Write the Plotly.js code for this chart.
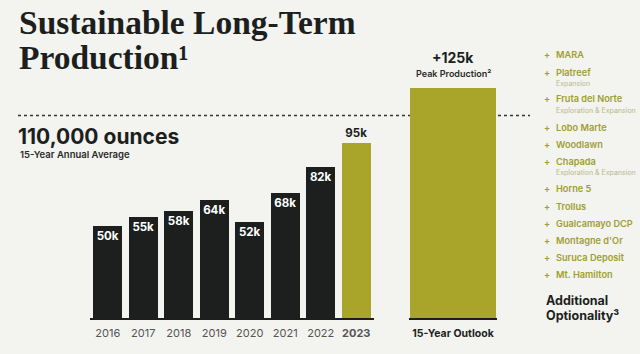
<!DOCTYPE html>
<html>
<head>
<meta charset="utf-8">
<script src="https://cdn.plot.ly/plotly-3.0.1.min.js"></script>
<style>
  html, body { margin: 0; padding: 0; background: #f3f3ef; }
  #chart { width: 640px; height: 354px; }
</style>
</head>
<body>
<div id="chart"></div>
<script>
// ---- data ----
const years = ['2016', '2017', '2018', '2019', '2020', '2021', '2022', '2023'];
const production = [50, 55, 58, 64, 52, 68, 82, 95];           // thousand ounces
const outlookCategory = ['15-Year Outlook'];
const outlookPeak = [125];                                       // thousand ounces
const annualAverage = 110;                                       // thousand ounces
const projects = ['MARA', 'Platreef', 'Fruta del Norte', 'Lobo Marte', 'Woodlawn', 'Chapada',
                  'Horne 5', 'Trollus', 'Gualcamayo DCP', "Montagne d'Or", 'Suruca Deposit', 'Mt. Hamilton'];
const projectNotes = ['', 'Expansion', 'Exploration & Expansion', '', '', 'Exploration & Expansion',
                      '', '', '', '', '', ''];

// ---- styling helpers ----
const W = 640, H = 354;
const px = x => x / W;
const py = y => 1 - y / H;
const DARK = '#1c1f1e';
const OLIVE = '#a9a52b';
const LISTGREEN = '#9ea032';
const SANS = 'Inter, "Open Sans", sans-serif';
const SERIF = '"Liberation Serif", "DejaVu Serif", serif';

const barColors = years.map((y, i) => i === years.length - 1 ? OLIVE : DARK);
const textPos = years.map((y, i) => i === years.length - 1 ? 'outside' : 'inside');
const fmtK = v => v + 'k';

const traces = [
  {
    type: 'bar', x: years, y: production, xaxis: 'x', yaxis: 'y',
    marker: { color: barColors }, width: 0.81,
    text: production.map(v => '<b>' + fmtK(v) + '</b>'),
    textposition: textPos, insidetextanchor: 'end', constraintext: 'none',
    insidetextfont: { family: SANS, size: 11.5, color: '#ffffff' },
    outsidetextfont: { family: SANS, size: 11.5, color: DARK },
    cliponaxis: false, hoverinfo: 'skip'
  },
  {
    type: 'bar', x: outlookCategory, y: outlookPeak, xaxis: 'x2', yaxis: 'y',
    marker: { color: OLIVE }, width: 0.98, hoverinfo: 'skip'
  }
];

const annotations = [
  { text: '<b>Sustainable Long-Term</b>', x: px(17), y: py(22), xanchor: 'left', yanchor: 'middle', height: 38,
    font: { family: SERIF, size: 33.5, color: DARK } },
  { text: '<b>Production¹</b>', x: px(17), y: py(57), xanchor: 'left', yanchor: 'middle', height: 30,
    font: { family: SERIF, size: 33.5, color: DARK } },
  { text: '<b>110,000 ounces</b>', x: px(16), y: py(136), xanchor: 'left', yanchor: 'middle',
    font: { family: SANS, size: 21, color: DARK } },
  { text: '15-Year Annual Average', x: px(18), y: py(154), xanchor: 'left', yanchor: 'middle',
    font: { family: SANS, size: 9.5, color: '#2a2a2a', weight: 600 } },
  { text: '<b>+' + fmtK(outlookPeak[0]) + '</b>', x: px(453), y: py(58), xanchor: 'center', yanchor: 'middle',
    font: { family: SANS, size: 14, color: DARK } },
  { text: 'Peak Production²', x: px(453), y: py(73), xanchor: 'center', yanchor: 'middle',
    font: { family: SANS, size: 9, color: '#2a2a2a', weight: 600 } },
  { text: '<b>Additional</b>', x: px(544), y: py(300), xanchor: 'left', yanchor: 'middle',
    font: { family: SANS, size: 12.5, color: DARK } },
  { text: '<b>Optionality³</b>', x: px(544), y: py(315), xanchor: 'left', yanchor: 'middle',
    font: { family: SANS, size: 12.5, color: DARK } }
];

// right-hand list of projects
const listY = [55, 72, 99, 127, 144, 161, 188, 206, 223, 240, 257, 274];
projects.forEach((p, i) => {
  annotations.push({ text: '<b>+</b>', x: px(547), y: py(listY[i]), xanchor: 'center', yanchor: 'middle',
    font: { family: SANS, size: 9, color: LISTGREEN } });
  annotations.push({ text: p, x: px(554), y: py(listY[i]), xanchor: 'left', yanchor: 'middle',
    font: { family: SANS, size: 9.2, color: LISTGREEN, weight: 600 } });
  if (projectNotes[i]) {
    annotations.push({ text: projectNotes[i], x: px(554), y: py(listY[i] + 11), xanchor: 'left', yanchor: 'middle',
      font: { family: SANS, size: 7, color: '#b9ba8c' } });
  }
});
annotations.forEach(a => { a.xref = 'paper'; a.yref = 'paper'; a.showarrow = false; });

const layout = {
  width: W, height: H,
  margin: { l: 0, r: 0, t: 0, b: 0 },
  paper_bgcolor: '#f3f3ef', plot_bgcolor: 'rgba(0,0,0,0)',
  showlegend: false, bargap: 0,
  xaxis: {
    domain: [px(90), px(374)], type: 'category', range: [-0.5, years.length - 0.5],
    tickvals: years, ticktext: years.map((y, i) => i === years.length - 1 ? '<b>' + y + '</b>' : y),
    tickfont: { family: SANS, size: 11, color: '#555' },
    showline: true, linecolor: DARK, linewidth: 2, showgrid: false, zeroline: false,
    ticks: '', ticklabelstandoff: 4, fixedrange: true
  },
  xaxis2: {
    domain: [px(409), px(497)], type: 'category', range: [-0.5, 0.5], anchor: 'y',
    tickvals: outlookCategory, ticktext: outlookCategory.map(c => '<b>' + c + '</b>'),
    tickfont: { family: SANS, size: 10.5, color: '#222' },
    showline: true, linecolor: DARK, linewidth: 2, showgrid: false, zeroline: false,
    ticks: '', ticklabelstandoff: 4, fixedrange: true
  },
  yaxis: {
    domain: [36 / H, 1 - 60 / H], range: [0, 140.2], visible: false, fixedrange: true
  },
  shapes: [
    { type: 'line', xref: 'paper', yref: 'y', x0: px(18), x1: px(530), y0: annualAverage, y1: annualAverage,
      line: { color: '#333', width: 1.5, dash: 'dot' }, layer: 'below' }
  ],
  annotations: annotations
};

Plotly.newPlot('chart', traces, layout, { displayModeBar: false, staticPlot: true });
</script>
</body>
</html>
